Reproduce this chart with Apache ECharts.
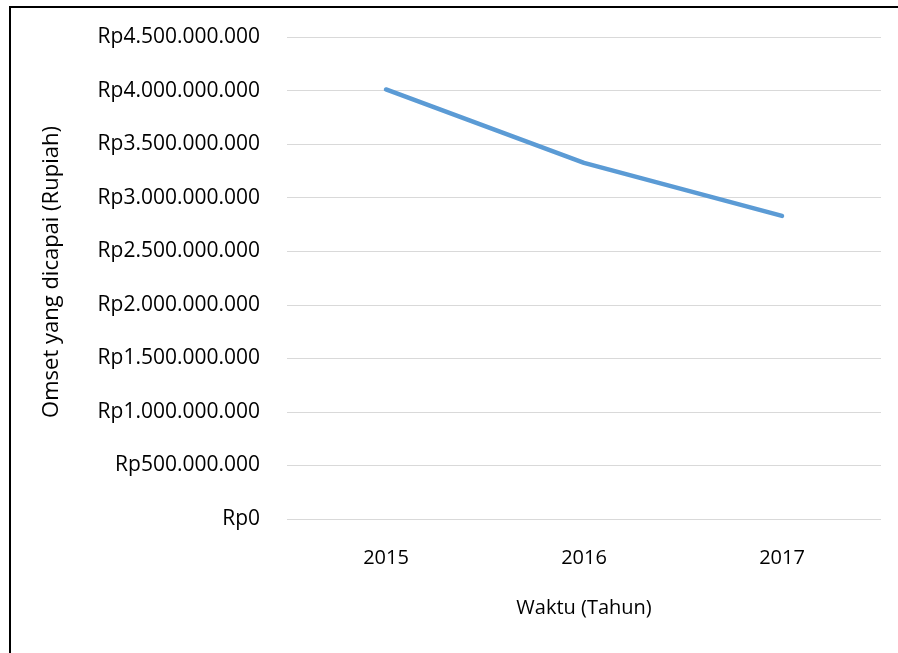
<!DOCTYPE html>
<html>
<head>
<meta charset="utf-8">
<script src="https://cdn.jsdelivr.net/npm/echarts@6/dist/echarts.min.js"></script>
<style>
html,body{margin:0;padding:0;background:#fff;}
#frame{position:absolute;left:9px;top:6px;width:889px;height:647px;border-left:2px solid #000;border-top:2px solid #000;box-sizing:border-box;}
#chart{position:absolute;left:0;top:0;width:898px;height:653px;}
</style>
</head>
<body>
<div id="frame"></div>
<div id="chart"></div>
<script>
var categories = ['2015', '2016', '2017'];
var omset = [4010000000, 3325000000, 2830000000];
var yTicks = [0, 500000000, 1000000000, 1500000000, 2000000000, 2500000000, 3000000000, 3500000000, 4000000000, 4500000000];

function rp(v) {
  var s = Math.round(v).toString().replace(/\B(?=(\d{3})+(?!\d))/g, '.');
  return 'Rp' + s;
}

var font = '"Open Sans", "Noto Sans", sans-serif';
var chart = echarts.init(document.getElementById('chart'), null, {renderer: 'canvas'});
chart.setOption({
  animation: false,
  backgroundColor: 'transparent',
  grid: {left: 287, right: 17, top: 37, bottom: 134, containLabel: false},
  xAxis: {
    type: 'category',
    data: categories,
    boundaryGap: true,
    axisLine: {show: false},
    axisTick: {show: false},
    axisLabel: {color: '#000', fontFamily: font, fontSize: 20, margin: 29},
    name: 'Waktu (Tahun)',
    nameLocation: 'middle',
    nameGap: 79,
    nameTextStyle: {color: '#000', fontFamily: font, fontSize: 20}
  },
  yAxis: {
    type: 'value',
    min: yTicks[0],
    max: yTicks[yTicks.length - 1],
    interval: yTicks[1] - yTicks[0],
    axisLine: {show: false},
    axisTick: {show: false},
    splitLine: {lineStyle: {color: '#d9d9d9', width: 1}},
    axisLabel: {color: '#000', fontFamily: font, fontSize: 21, margin: 27, formatter: rp},
    name: 'Omset yang dicapai (Rupiah)',
    nameLocation: 'middle',
    nameGap: 224,
    nameRotate: 90,
    nameTextStyle: {color: '#000', fontFamily: font, fontSize: 22, padding: [0, 0, 0, 12]}
  },
  series: [{
    type: 'line',
    data: omset,
    showSymbol: false,
    symbol: 'none',
    lineStyle: {color: '#5b9bd5', width: 4.5, cap: 'round', join: 'round'}
  }]
});
</script>
</body>
</html>
